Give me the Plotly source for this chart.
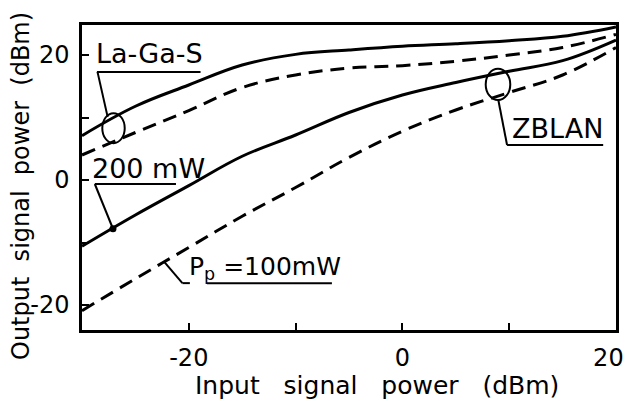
import plotly.graph_objects as go

# Input signal power (dBm)
x_in = [-30, -25, -20, -15, -10, -5, 0, 5, 10, 15, 20]

# Output signal power (dBm)
lags_200 = [7.1, 11.8, 15.2, 18.4, 20.1, 20.8, 21.4, 21.8, 22.3, 23.0, 24.5]
lags_100 = [4.0, 7.6, 11.1, 14.8, 16.8, 17.9, 18.3, 19.0, 20.0, 21.2, 23.3]
zblan_200 = [-10.6, -5.6, -0.9, 3.8, 7.2, 10.8, 13.6, 15.6, 17.4, 19.1, 22.4]
zblan_100 = [-20.9, -15.8, -10.8, -5.8, -1.2, 3.6, 7.8, 11.2, 14.0, 16.8, 21.2]

tick_vals = [-20, -10, 0, 10, 20]
x_tick_text = ["-20", "", "0", "", "20&nbsp;&nbsp;"]
y_tick_text = ["-20", "", "0", "", "20"]

FONT = "DejaVu Sans, sans-serif"
LW = 3

fig = go.Figure()
series = [
    (lags_200, "solid"), (lags_100, "14px,8px"),
    (zblan_200, "solid"), (zblan_100, "14px,8px"),
]
for ys, dash in series:
    fig.add_trace(go.Scatter(x=x_in, y=ys, mode="lines",
                             line=dict(color="black", width=LW, dash=dash, shape="spline", smoothing=1.1),
                             showlegend=False, hoverinfo="skip"))

# dot where the 200 mW leader touches the curve
fig.add_trace(go.Scatter(x=[-27.1], y=[-7.8], mode="markers",
                         marker=dict(color="black", size=7), showlegend=False, hoverinfo="skip"))

shapes = []
def seg(x0, y0, x1, y1, w=2):
    shapes.append(dict(type="line", xref="x", yref="y", x0=x0, y0=y0, x1=x1, y1=y1,
                       line=dict(color="black", width=w)))

# La-Ga-S label
seg(-28.6, 17.3, -18.9, 17.3)
seg(-28.55, 17.3, -27.6, 10.1)
shapes.append(dict(type="circle", xref="x", yref="y", x0=-28.1, x1=-26.0, y0=5.9, y1=10.7,
                   line=dict(color="black", width=2)))
# 200 mW
seg(-28.8, -0.64, -21.2, -0.64)
seg(-28.8, -0.64, -27.1, -7.8)
# Pp = 100 mW
seg(-22.3, -13.1, -20.6, -16.5)
seg(-20.6, -16.5, -19.9, -16.5)
seg(-18.3, -16.5, -6.6, -16.5)
# ZBLAN
shapes.append(dict(type="circle", xref="x", yref="y", x0=7.8, x1=10.1, y0=12.8, y1=17.8,
                   line=dict(color="black", width=2)))
seg(8.98, 12.8, 9.8, 5.6)
seg(9.8, 5.6, 18.8, 5.6)

ann = []
def txt(x, y, s, size=27, xanchor="center"):
    ann.append(dict(x=x, y=y, xref="x", yref="y", text=s, showarrow=False,
                    font=dict(family=FONT, size=size, color="black"), xanchor=xanchor, yanchor="middle"))

txt(-23.7, 20.2, "La-Ga-S")
txt(-23.8, 1.9, "200 mW")
txt(-20.2, -14.1, "P<sub>p</sub> =100mW", size=25, xanchor="left")
txt(14.5, 8.3, "ZBLAN")

L, R, T, B = 82, 12, 25, 70
W, H = 628, 400
pw, ph = W - L - R, H - T - B

def px_to_paper(px, py):
    return (px - L) / pw, 1 - (py - T) / ph

xt, yt = px_to_paper(377, 385)
ann.append(dict(x=xt, y=yt, xref="paper", yref="paper", text="Input   signal   power   (dBm)",
                showarrow=False, xanchor="center", yanchor="middle",
                font=dict(family=FONT, size=25, color="black")))
xt, yt = px_to_paper(21, 186)
ann.append(dict(x=xt, y=yt, xref="paper", yref="paper", text="Output  signal  power  (dBm)",
                showarrow=False, textangle=-90, xanchor="center", yanchor="middle",
                font=dict(family=FONT, size=24, color="black")))

axis_common = dict(tickvals=tick_vals, ticks="inside", ticklen=7,
                   tickwidth=2, tickcolor="black", showline=True, linecolor="black", linewidth=2.5,
                   mirror=True, showgrid=False, zeroline=False, tickfont=dict(size=24, color="black"),
                   automargin=False, ticklabeloverflow="allow")

fig.update_layout(
    width=W, height=H,
    margin=dict(l=L, r=R, t=T, b=B, autoexpand=False),
    paper_bgcolor="white", plot_bgcolor="white",
    shapes=shapes, annotations=ann,
    font=dict(family=FONT, size=24, color="black"),
    xaxis=dict(range=[-30, 20], ticktext=x_tick_text, ticklabelstandoff=4, **axis_common),
    yaxis=dict(range=[-24, 24.8], ticktext=y_tick_text, ticklabelstandoff=5, **axis_common),
)

fig.write_html("out.html", config={"displayModeBar": False},
               post_script="document.body.style.margin='0';document.body.style.padding='0';")
